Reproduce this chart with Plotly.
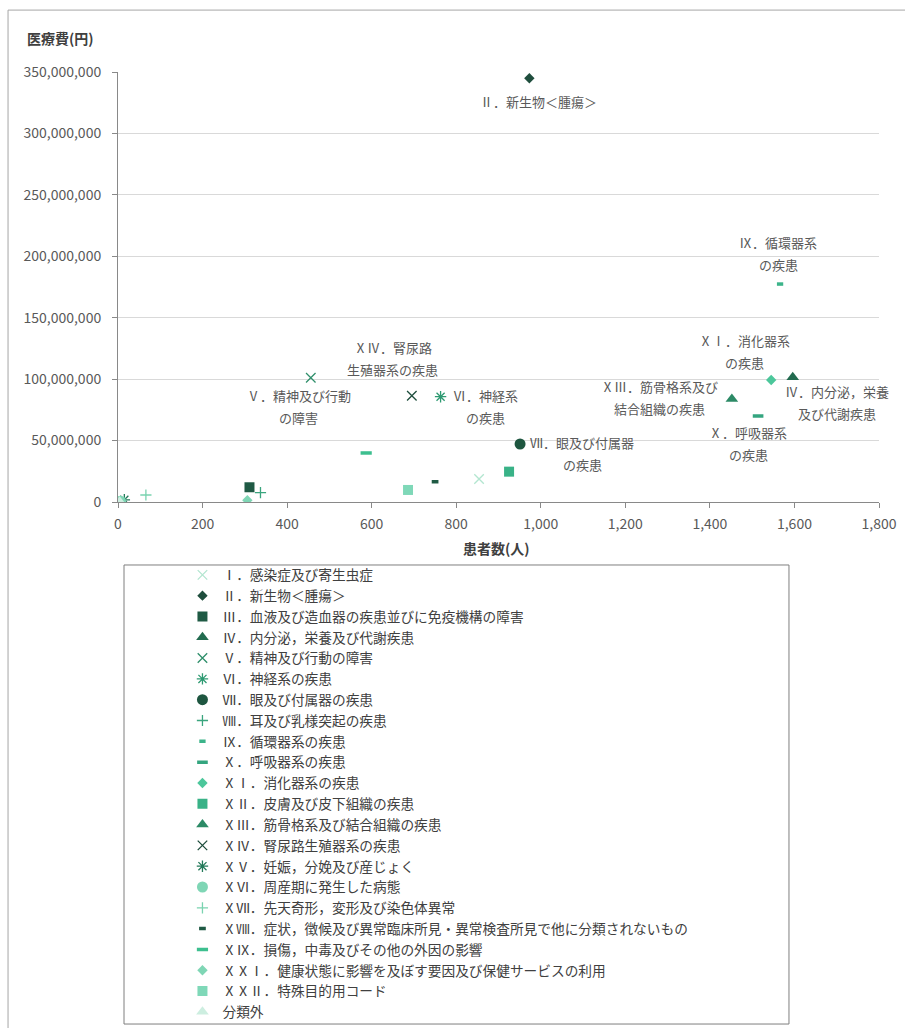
import plotly.graph_objects as go

FONT = "Noto Sans CJK JP"

names = [
    "Ⅰ．感染症及び寄生虫症",
    "Ⅱ．新生物＜腫瘍＞",
    "Ⅲ．血液及び造血器の疾患並びに免疫機構の障害",
    "Ⅳ．内分泌，栄養及び代謝疾患",
    "Ⅴ．精神及び行動の障害",
    "Ⅵ．神経系の疾患",
    "Ⅶ．眼及び付属器の疾患",
    "Ⅷ．耳及び乳様突起の疾患",
    "Ⅸ．循環器系の疾患",
    "Ⅹ．呼吸器系の疾患",
    "ⅩⅠ．消化器系の疾患",
    "ⅩⅡ．皮膚及び皮下組織の疾患",
    "ⅩⅢ．筋骨格系及び結合組織の疾患",
    "ⅩⅣ．腎尿路生殖器系の疾患",
    "ⅩⅤ．妊娠，分娩及び産じょく",
    "ⅩⅥ．周産期に発生した病態",
    "ⅩⅦ．先天奇形，変形及び染色体異常",
    "ⅩⅧ．症状，徴候及び異常臨床所見・異常検査所見で他に分類されないもの",
    "ⅩⅨ．損傷，中毒及びその他の外因の影響",
    "ⅩⅩⅠ．健康状態に影響を及ぼす要因及び保健サービスの利用",
    "ⅩⅩⅡ．特殊目的用コード",
    "分類外",
]

patients = [854, 973, 311, 1596, 456, 763, 951, 337, 1566, 1514, 1545, 925,
            1452, 695, 15, 6, 66, 750, 587, 306, 686, 4]
costs = [18.7e6, 344.9e6, 12.0e6, 101.5e6, 101.2e6, 85.7e6, 47.2e6, 7.6e6,
         177.4e6, 70.0e6, 99.3e6, 24.7e6, 83.8e6, 86.5e6, 1.8e6, 0.6e6,
         5.7e6, 16.5e6, 39.9e6, 1.4e6, 9.8e6, 0.3e6]

symbols = ["x-thin", "diamond", "square", "triangle-up", "x-thin", "asterisk",
           "circle", "cross-thin", "line-ew", "line-ew", "diamond", "square",
           "triangle-up", "x-thin", "asterisk", "circle", "cross-thin",
           "line-ew", "line-ew", "diamond", "square", "triangle-up"]
sizes = [9.5, 8, 10, 11, 9.5, 9.5, 11, 8, 4.5, 7.6, 8, 10, 11, 9.5, 9.5, 11, 8,
         4.8, 8, 8, 10, 11]
colors = ["#b3e6d0", "#1f4e3d", "#1f5a44", "#226b4f", "#2f8f6b", "#2e9a72",
          "#1e5640", "#3aa57e", "#3cb48a", "#34a57f", "#4cc79b", "#39b287",
          "#2c8a66", "#1f4e3d", "#237a5a", "#7fd6b5", "#7ad3b0", "#1f5a44",
          "#3dbf8f", "#7fd6b5", "#7fd8b8", "#cdeee0"]

# point labels: (series index, line1, line2, xshift px, yshift px)
labels = [
    (1, "Ⅱ．新生物＜腫瘍＞", None, 9, -23),
    (8, "Ⅸ．循環器系", "の疾患", -2, 31),
    (10, "ⅩⅠ．消化器系", "の疾患", -27, 29),
    (12, "ⅩⅢ．筋骨格系及び", "結合組織の疾患", -72, 2),
    (3, "Ⅳ．内分泌，栄養", "及び代謝疾患", 44, -25),
    (9, "Ⅹ．呼吸器系", "の疾患", -10, -27),
    (13, "ⅩⅣ．腎尿路", "生殖器系の疾患", -19, 37),
    (4, "Ⅴ．精神及び行動", "の障害", -12, -29),
    (5, "Ⅵ．神経系", "の疾患", 45, -10),
    (6, "Ⅶ．眼及び付属器", "の疾患", 62, -9),
]

fig = go.Figure()
line_syms = {"x-thin", "asterisk", "cross-thin", "line-ew"}
for i, nm in enumerate(names):
    sym = symbols[i]
    if sym in line_syms:
        lw = 3.5 if sym == "line-ew" else 1.3
        marker = dict(symbol=sym, size=sizes[i], color=colors[i],
                      line=dict(color=colors[i], width=lw))
    else:
        marker = dict(symbol=sym, size=sizes[i], color=colors[i],
                      line=dict(width=0))
    fig.add_trace(go.Scatter(x=[patients[i]], y=[costs[i]], mode="markers",
                             name=nm, marker=marker, hoverinfo="skip"))

for idx, l1, l2, xs, ys in labels:
    if l2 is None:
        lines = [(l1, ys)]
    else:
        lines = [(l1, ys + 11), (l2, ys - 11)]
    for txt, yy in lines:
        fig.add_annotation(x=patients[idx], y=costs[idx], text=txt,
                           showarrow=False, xshift=xs, yshift=yy,
                           xanchor="center", yanchor="middle",
                           font=dict(family=FONT, size=13, color="#595959"))

# axis titles
fig.add_annotation(xref="paper", yref="paper", x=-0.0762, y=1.079,
                   text="<b>医療費(円)</b>", showarrow=False,
                   xanchor="center", yanchor="middle",
                   font=dict(family=FONT, size=14, color="#404040"))
fig.add_annotation(xref="paper", yref="paper", x=0.498, y=-0.107,
                   text="<b>患者数(人)</b>", showarrow=False,
                   xanchor="center", yanchor="middle",
                   font=dict(family=FONT, size=14, color="#404040"))

# outer chart border and legend box
fig.add_shape(type="rect", xref="paper", yref="paper", x0=-0.1445, x1=1.2,
              y0=-1.3, y1=1.144, line=dict(color="#a6a6a6", width=1),
              layer="below")
fig.add_shape(type="rect", xref="paper", yref="paper", x0=0.0079, x1=0.8817,
              y0=-1.214, y1=-0.1465, line=dict(color="#7f7f7f", width=1),
              layer="below")

fig.update_layout(
    width=905, height=1028,
    margin=dict(l=118, r=26, t=72, b=526, pad=0, autoexpand=False),
    paper_bgcolor="white", plot_bgcolor="white",
    font=dict(family=FONT, size=13, color="#595959"),
    showlegend=True,
    legend=dict(x=0.0847, y=0.4558, xref="paper", yref="container",
                xanchor="left", yanchor="top",
                bgcolor="rgba(0,0,0,0)", borderwidth=0,
                font=dict(family=FONT, size=13.7, color="#404040"),
                tracegroupgap=0, itemclick=False),
    xaxis=dict(range=[0, 1800], tickvals=list(range(0, 1801, 200)),
               ticktext=[f"{v:,}" for v in range(0, 1801, 200)],
               showgrid=False, zeroline=False, showline=True,
               linecolor="#898989", linewidth=1, ticks="outside",
               ticklen=5, tickcolor="#898989", ticklabelstandoff=4,
               automargin=False,
               tickfont=dict(family=FONT, size=14, color="#595959")),
    yaxis=dict(range=[0, 350e6], tickvals=[i * 50e6 for i in range(8)],
               ticktext=[f"{i * 50000000:,}" for i in range(8)],
               showgrid=True, gridcolor="#d9d9d9", gridwidth=1,
               zeroline=False, showline=True, linecolor="#898989",
               linewidth=1, ticks="outside", ticklen=5, tickcolor="#898989",
               ticklabelstandoff=8, automargin=False,
               tickfont=dict(family=FONT, size=14, color="#595959")),
)

fig.write_html("out.html")
